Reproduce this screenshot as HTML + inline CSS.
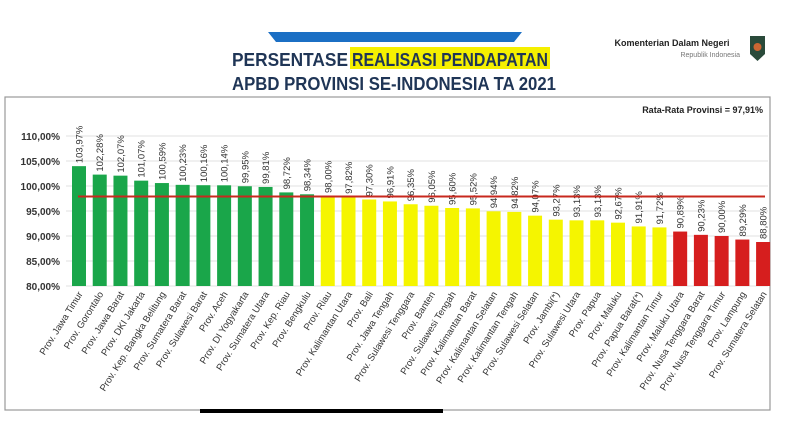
<!DOCTYPE html>
<html><head><meta charset="utf-8"><style>
html,body{margin:0;padding:0;background:#fff;}
svg{display:block;font-family:"Liberation Sans",sans-serif;}
</style></head><body>
<svg width="800" height="445" viewBox="0 0 800 445" xmlns="http://www.w3.org/2000/svg">
<rect width="800" height="445" fill="#fff"/>
<polygon points="268,32 522,32 514,42 276,42" fill="#1b6fc4"/>
<rect x="350" y="47" width="200" height="22" fill="#f5f000"/>
<text x="232" y="66" font-size="18" font-weight="bold" fill="#1f3556" textLength="116" lengthAdjust="spacingAndGlyphs">PERSENTASE</text>
<text x="352" y="66" font-size="18" font-weight="bold" fill="#1f3556" textLength="196" lengthAdjust="spacingAndGlyphs">REALISASI PENDAPATAN</text>
<text x="232" y="90" font-size="18" font-weight="bold" fill="#1f3556" textLength="324" lengthAdjust="spacingAndGlyphs">APBD PROVINSI SE-INDONESIA TA 2021</text>
<text x="672" y="46" text-anchor="middle" font-size="9" font-weight="bold" fill="#222">Komenterian Dalam Negeri</text>
<text x="740" y="57" text-anchor="end" font-size="7" fill="#777">Republik Indonesia</text>
<path d="M750,36 h15 v18 l-7.5,7 l-7.5,-7 z" fill="#2a4a3a"/>
<circle cx="757.5" cy="47" r="4" fill="#c63"/>
<rect x="5" y="97" width="765" height="313" fill="none" stroke="#999" stroke-width="1.2"/>
<text x="763" y="113" text-anchor="end" font-size="9" font-weight="bold" fill="#222">Rata-Rata Provinsi = 97,91%</text>
<g id="grid" stroke="#e2e2e2" stroke-width="1"></g>
<g id="chart"></g>
<rect x="200" y="409" width="243" height="4" fill="#000"/>
</svg>
<script>
const names=["Jawa Timur","Gorontalo","Jawa Barat","DKI Jakarta","Kep. Bangka Belitung","Sumatera Barat","Sulawesi Barat","Aceh","DI Yogyakarta","Sumatera Utara","Kep. Riau","Bengkulu","Riau","Kalimantan Utara","Bali","Jawa Tengah","Sulawesi Tenggara","Banten","Sulawesi Tengah","Kalimantan Barat","Kalimantan Selatan","Kalimantan Tengah","Sulawesi Selatan","Jambi(*)","Sulawesi Utara","Papua","Maluku","Papua Barat(*)","Kalimantan Timur","Maluku Utara","Nusa Tenggara Barat","Nusa Tenggara Timur","Lampung","Sumatera Selatan"];
const vals=[103.97,102.28,102.07,101.07,100.59,100.23,100.16,100.14,99.95,99.81,98.72,98.34,98.00,97.82,97.30,96.91,96.35,96.05,95.60,95.52,94.94,94.82,94.07,93.27,93.13,93.13,92.67,91.91,91.72,90.89,90.23,90.00,89.29,88.80];
const NS="http://www.w3.org/2000/svg";
const g=document.getElementById("chart"),gr=document.getElementById("grid");
const Y=v=>186-(v-100)*5;
function el(t,a,p,txt){const e=document.createElementNS(NS,t);for(const k in a)e.setAttribute(k,a[k]);if(txt)e.textContent=txt;p.appendChild(e);return e;}
for(let v=80;v<=110;v+=5){
 el("line",{x1:66,x2:768,y1:Y(v),y2:Y(v)},gr);
 el("text",{x:60,y:Y(v)+4,"text-anchor":"end","font-size":"10","font-weight":"bold",fill:"#333"},g,v.toFixed(2).replace(".",",")+"%");
}
vals.forEach((v,i)=>{
 const c=79+i*20.73;
 const col=i<12?"#1aa64a":(i<29?"#f5f500":"#d61e1e");
 el("rect",{x:c-7,y:Y(v),width:14,height:286-Y(v),fill:col},g);
 el("text",{transform:`translate(${c+3.5},${Y(v)-3}) rotate(-90)`,"font-size":"9.5",fill:"#333"},g,v.toFixed(2).replace(".",",")+"%");
 el("text",{transform:`translate(${c+4},${294}) rotate(-58)`,"text-anchor":"end","font-size":"9.5",fill:"#333"},g,"Prov. "+names[i]);
});
el("line",{x1:78,x2:765,y1:Y(97.91),y2:Y(97.91),stroke:"#c8281e","stroke-width":"2"},g);
</script>
</body></html>
